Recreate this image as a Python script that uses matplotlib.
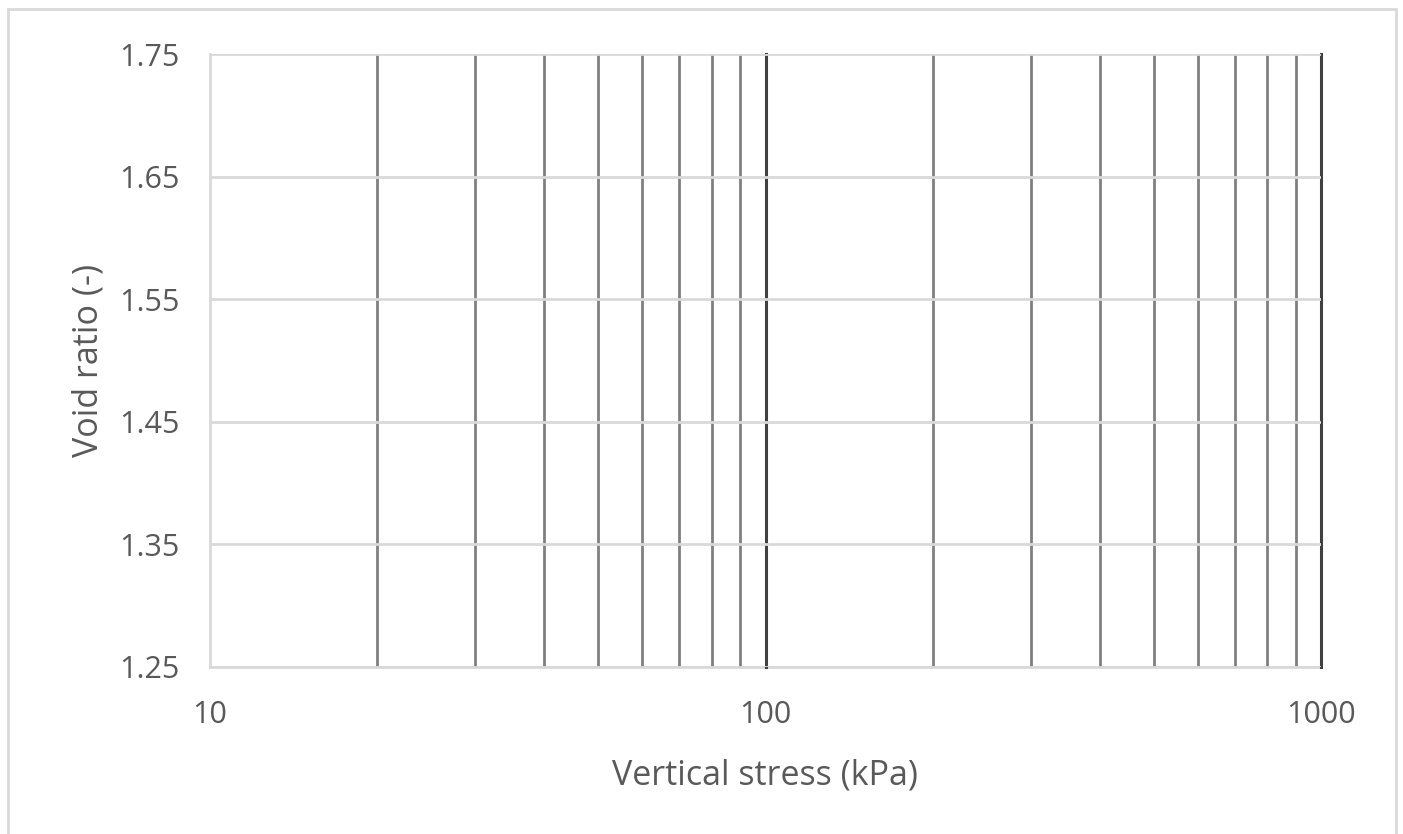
import matplotlib
matplotlib.use("Agg")
import matplotlib.pyplot as plt
from matplotlib.ticker import FixedLocator, NullFormatter, FixedFormatter
from matplotlib.patches import Rectangle

x_range = [10, 1000]
y_range = [1.25, 1.75]
x_major_ticks = [10, 100, 1000]
x_tick_labels = ["10", "100", "1000"]
x_minor_ticks = [20, 30, 40, 50, 60, 70, 80, 90, 200, 300, 400, 500, 600, 700, 800, 900]
y_ticks = [1.25, 1.35, 1.45, 1.55, 1.65, 1.75]
y_tick_labels = ["1.25", "1.35", "1.45", "1.55", "1.65", "1.75"]
x_label = "Vertical stress (kPa)"
y_label = "Void ratio (-)"

plt.rcParams['font.family'] = ['Open Sans', 'DejaVu Sans']

W, H = 1403, 834
fig = plt.figure(figsize=(W / 100, H / 100), dpi=100)
ax = fig.add_axes([210 / W, 1 - 667 / H, (1321 - 210) / W, (667 - 54) / H])

# outer chart border
fig.patches.append(Rectangle((8 / W, -0.05), (1396 - 8) / W, 1.05 - 9 / H,
                             transform=fig.transFigure, fill=False,
                             edgecolor="#d9d9d9", linewidth=2))

ax.set_xscale("log")
ax.set_xlim(*x_range)
ax.set_ylim(*y_range)

ax.xaxis.set_major_locator(FixedLocator(x_major_ticks))
ax.xaxis.set_major_formatter(FixedFormatter(x_tick_labels))
ax.xaxis.set_minor_locator(FixedLocator(x_minor_ticks))
ax.xaxis.set_minor_formatter(NullFormatter())
ax.yaxis.set_major_locator(FixedLocator(y_ticks))
ax.yaxis.set_major_formatter(FixedFormatter(y_tick_labels))

ax.grid(which="major", axis="y", color="#d9d9d9", linewidth=2)
ax.grid(which="minor", axis="x", color="#808080", linewidth=2)
ax.grid(which="major", axis="x", color="#404040", linewidth=2.2)
ax.set_axisbelow(False)

for s in ["top", "right"]:
    ax.spines[s].set_visible(False)
ax.spines["left"].set_color("#d9d9d9")
ax.spines["left"].set_linewidth(2)
ax.spines["left"].set_zorder(5)
ax.spines["bottom"].set_color("#d9d9d9")
ax.spines["bottom"].set_linewidth(2)
ax.spines["bottom"].set_zorder(0.5)

ax.tick_params(which="both", length=0, labelsize=22, labelcolor="#595959")
ax.tick_params(axis="x", pad=24)
ax.tick_params(axis="y", pad=22)

ax.set_xlabel(x_label, fontsize=24.5, color="#595959", labelpad=20)
ax.set_ylabel(y_label, fontsize=24.5, color="#595959", labelpad=10)

fig.canvas.draw()
for val, tick in zip(x_major_ticks, ax.xaxis.get_major_ticks()):
    tick.gridline.set_clip_on(False)
    if val == x_range[0]:
        tick.gridline.set_visible(False)

fig.savefig("out.png", dpi=100)
